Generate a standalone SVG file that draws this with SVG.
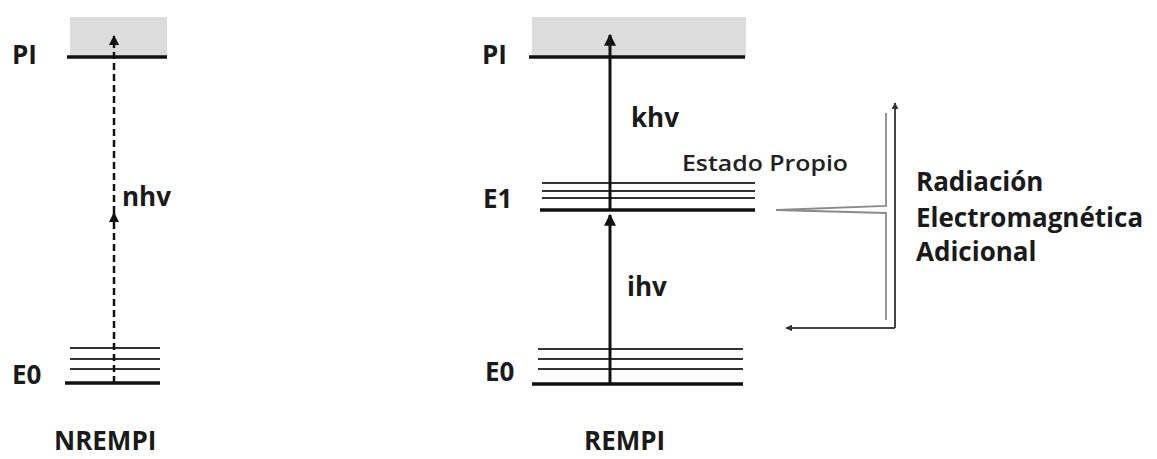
<svg xmlns="http://www.w3.org/2000/svg" width="1157" height="459" viewBox="0 0 1157 459">
<defs>
<style>
.lbl{font-family:"Open Sans","Liberation Sans",sans-serif;font-weight:bold;font-size:26px;fill:#1a1a1a}
.reg{font-family:"Open Sans","Liberation Sans",sans-serif;font-weight:600;font-size:22px;fill:#222}
.thick{stroke:#111;stroke-width:3.5;fill:none}
.thin{stroke:#333;stroke-width:2;fill:none}
.band{fill:#dcdcdc}
</style>
<marker id="ah" viewBox="0 0 10 10" refX="9" refY="5" markerWidth="10" markerHeight="10" markerUnits="userSpaceOnUse" orient="auto">
<path d="M0,0 L10,5 L0,10 z" fill="#111"/>
</marker>
<marker id="ahb" viewBox="0 0 10 10" refX="9" refY="5" markerWidth="14" markerHeight="12" markerUnits="userSpaceOnUse" orient="auto">
<path d="M0,0 L10,5 L0,10 z" fill="#111"/>
</marker>
<marker id="ahs" viewBox="0 0 10 10" refX="9" refY="5" markerWidth="7" markerHeight="7" markerUnits="userSpaceOnUse" orient="auto">
<path d="M0,0 L10,5 L0,10 z" fill="#333"/>
</marker>
</defs>
<rect width="1157" height="459" fill="#fff"/>

<g id="nrempi">
<rect class="band" x="70" y="17" width="97" height="40"/>
<line class="thick" x1="67" y1="57" x2="167" y2="57"/>
<text class="lbl" x="12" y="64">PI</text>
<line class="thin" x1="70" y1="348" x2="160" y2="348"/>
<line class="thin" x1="70" y1="359" x2="160" y2="359"/>
<line class="thin" x1="70" y1="369" x2="160" y2="369"/>
<line class="thick" x1="65" y1="383" x2="160" y2="383"/>
<text class="lbl" x="12" y="384">E0</text>
<text class="lbl" x="54" y="450">NREMPI</text>
</g>

<g id="rempi">
<rect class="band" x="532" y="17" width="214" height="40"/>
<line class="thick" x1="529" y1="57" x2="745" y2="57"/>
<text class="lbl" x="482" y="64">PI</text>
<line class="thin" x1="542" y1="183" x2="755" y2="183"/>
<line class="thin" x1="542" y1="191" x2="755" y2="191"/>
<line class="thin" x1="542" y1="198" x2="755" y2="198"/>
<line class="thick" x1="540" y1="210" x2="755" y2="210"/>
<text class="lbl" x="483" y="208">E1</text>
<line class="thin" x1="538" y1="349" x2="743" y2="349"/>
<line class="thin" x1="538" y1="359" x2="743" y2="359"/>
<line class="thin" x1="538" y1="369" x2="743" y2="369"/>
<line class="thick" x1="532" y1="384" x2="743" y2="384"/>
<text class="lbl" x="485" y="381">E0</text>
<text class="lbl" x="584" y="450">REMPI</text>
<text class="reg" x="682" y="171" textLength="166" lengthAdjust="spacingAndGlyphs">Estado Propio</text>
</g>

<g id="radiacion">
<text class="lbl" x="916" y="191">Radiación</text>
<text class="lbl" x="916" y="227">Electromagnética</text>
<text class="lbl" x="916" y="261">Adicional</text>
</g>

<g id="connectors">
<line x1="114" y1="383" x2="114" y2="213" stroke="#111" stroke-width="2.5" stroke-dasharray="7,4" marker-end="url(#ah)"/>
<line x1="114" y1="213" x2="114" y2="36" stroke="#111" stroke-width="2.5" stroke-dasharray="7,4" marker-end="url(#ah)"/>
<text class="lbl" x="122" y="206">nhv</text>
<line x1="610" y1="384" x2="610" y2="215" stroke="#111" stroke-width="3" marker-end="url(#ahb)"/>
<line x1="610" y1="210" x2="610" y2="35" stroke="#111" stroke-width="3" marker-end="url(#ahb)"/>
<text class="lbl" x="631" y="127">khv</text>
<text class="lbl" x="627" y="296">ihv</text>
<path d="M886,113 V206 L776,210 L886,213 V320" stroke="#8a8a8a" stroke-width="1.8" fill="none"/>
<path d="M895,328 V103" stroke="#444" stroke-width="2" fill="none" marker-end="url(#ahs)"/>
<path d="M895,328 H786" stroke="#444" stroke-width="2" fill="none" marker-end="url(#ahs)"/>
</g>
</svg>
